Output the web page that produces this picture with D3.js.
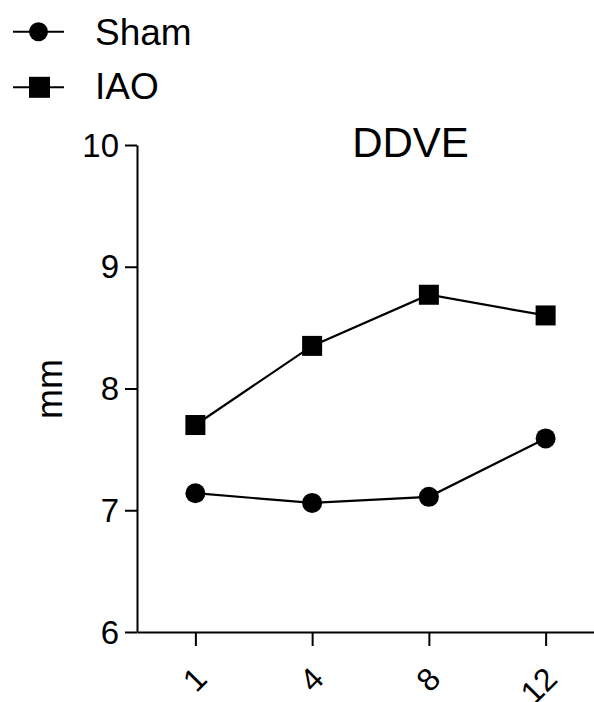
<!DOCTYPE html>
<html>
<head>
<meta charset="utf-8">
<script src="https://cdn.jsdelivr.net/npm/d3@7"></script>
<style>
  body { margin: 0; background: #fff; }
  svg { display: block; }
  text { font-family: "Liberation Sans", Arial, Helvetica, sans-serif; fill: #000; }
</style>
</head>
<body>
<svg id="chart" width="594" height="702"></svg>
<script>
// Weeks after surgery (x categories)
const weeks = ["1", "4", "8", "12"];
// DDVE in mm for each group
const shamValues = [7.14, 7.06, 7.11, 7.59];
const iaoValues  = [7.70, 8.35, 8.77, 8.60];
const yTicks = [6, 7, 8, 9, 10];
const seriesNames = ["Sham", "IAO"];
const chartTitle = "DDVE";
const yLabel = "mm";

const svg = d3.select("#chart");

const x = d3.scalePoint().domain(weeks).range([137, 604]).padding(0.5);
const y = d3.scaleLinear().domain([6, 10]).range([632, 145]);

// Y axis
const yAxis = svg.append("g")
  .attr("transform", "translate(137,0)")
  .call(d3.axisLeft(y).tickValues(yTicks).tickFormat(d3.format("d"))
    .tickSize(12).tickSizeOuter(0).tickPadding(6));
yAxis.selectAll("path, line").attr("stroke", "#000").attr("stroke-width", 2);
yAxis.selectAll("text").attr("font-size", 33).attr("dy", "0.34em");

// X axis
const xAxis = svg.append("g")
  .attr("transform", "translate(0,632)")
  .call(d3.axisBottom(x).tickSize(14).tickSizeOuter(0));
xAxis.selectAll("path, line").attr("stroke", "#000").attr("stroke-width", 2);
xAxis.selectAll("text")
  .attr("font-size", 32)
  .attr("text-anchor", "end")
  .attr("x", 0).attr("y", 0).attr("dy", "0.35em")
  .attr("transform", "translate(5,41) rotate(-45)");

// Series
const series = [
  { name: seriesNames[0], values: shamValues, shape: "circle" },
  { name: seriesNames[1], values: iaoValues, shape: "square" }
];

const line = d3.line()
  .x((d, i) => x(weeks[i]))
  .y(d => y(d));

series.forEach(s => {
  svg.append("path")
    .datum(s.values)
    .attr("d", line)
    .attr("fill", "none")
    .attr("stroke", "#000")
    .attr("stroke-width", 2.2);

  const g = svg.append("g");
  if (s.shape === "circle") {
    g.selectAll("circle").data(s.values).join("circle")
      .attr("cx", (d, i) => x(weeks[i]))
      .attr("cy", d => y(d))
      .attr("r", 10)
      .attr("fill", "#000");
  } else {
    g.selectAll("rect").data(s.values).join("rect")
      .attr("x", (d, i) => x(weeks[i]) - 10)
      .attr("y", d => y(d) - 10)
      .attr("width", 20)
      .attr("height", 20)
      .attr("fill", "#000");
  }
});

// Title
svg.append("text")
  .attr("x", 410.5)
  .attr("y", 157)
  .attr("text-anchor", "middle")
  .attr("font-size", 42)
  .text(chartTitle);

// Y axis label
svg.append("text")
  .attr("transform", "translate(62,389) rotate(-90)")
  .attr("text-anchor", "middle")
  .attr("font-size", 36)
  .text(yLabel);

// Legend
const legendRows = [
  { name: seriesNames[0], shape: "circle", cy: 31.7, baseline: 44.5 },
  { name: seriesNames[1], shape: "square", cy: 87.3, baseline: 99 }
];
const legend = svg.append("g");
legendRows.forEach(r => {
  legend.append("line")
    .attr("x1", 13).attr("x2", 64)
    .attr("y1", r.cy).attr("y2", r.cy)
    .attr("stroke", "#000").attr("stroke-width", 2);
  if (r.shape === "circle") {
    legend.append("circle").attr("cx", 38.5).attr("cy", r.cy).attr("r", 9.5).attr("fill", "#000");
  } else {
    legend.append("rect").attr("x", 29).attr("y", r.cy - 10.5).attr("width", 21).attr("height", 21).attr("fill", "#000");
  }
  legend.append("text")
    .attr("x", 95)
    .attr("y", r.baseline)
    .attr("font-size", 37)
    .text(r.name);
});
</script>
</body>
</html>
